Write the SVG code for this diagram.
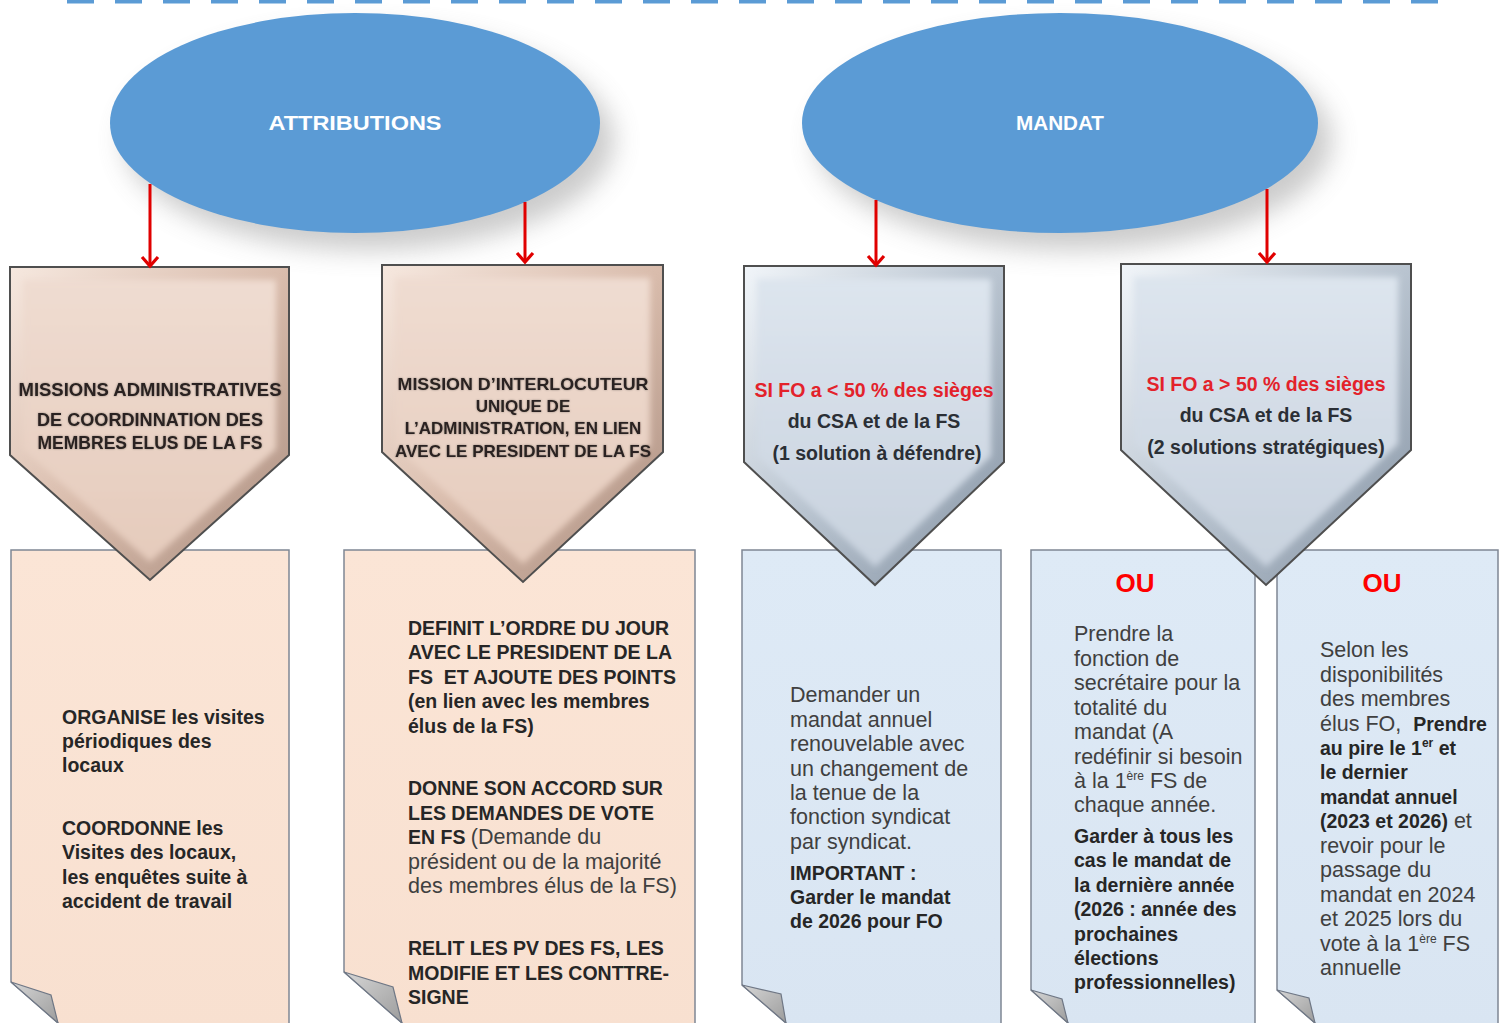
<svg xmlns="http://www.w3.org/2000/svg" width="1509" height="1023" viewBox="0 0 1509 1023">
<style>
.chb{font-family:"Liberation Sans",Arial,sans-serif;font-weight:bold;font-size:17.5px;fill:#2a2320;text-anchor:middle;}
.chm{font-family:"Liberation Sans",Arial,sans-serif;font-weight:bold;font-size:19.5px;fill:#2b2f35;text-anchor:middle;}
.red{fill:#E3222B;}
.bb{font-family:"Liberation Sans",Arial,sans-serif;font-weight:bold;font-size:19.5px;fill:#262626;}
.br{font-family:"Liberation Sans",Arial,sans-serif;font-weight:normal;font-size:21.5px;fill:#404040;}
.bd{font-weight:bold;font-size:19.5px;fill:#262626;}
.ou{font-family:"Liberation Sans",Arial,sans-serif;font-weight:bold;font-size:26px;fill:#FF0000;text-anchor:middle;}
.ell{fill:#5B9BD5;}
.elsh{fill:#8C8C8C;opacity:0.45;}
.elt{font-family:"Liberation Sans",Arial,sans-serif;font-weight:bold;font-size:21px;fill:#FFFFFF;text-anchor:middle;}
.box1{fill:url(#peach);stroke:#7F8794;stroke-width:1.5;}
.box2{fill:url(#pale);stroke:#7F8794;stroke-width:1.5;}
.fold{fill:url(#foldg);stroke:#6F7785;stroke-width:1.2;}
.chb-out{fill:url(#beigeEdge);}
.chb-in{fill:url(#beigeFace);}
.chl-out{fill:url(#blueEdge);}
.chl-in{fill:url(#blueFace);}
.chst{fill:none;stroke:#4F4F4F;stroke-width:2;}
.arr{stroke:#E00000;stroke-width:3;fill:none;marker-end:url(#ah);}
.sup{font-size:12px;}
</style>
<defs>
<linearGradient id="peach" x1="0" y1="0" x2="0" y2="1"><stop offset="0" stop-color="#FBE5D6"/><stop offset="1" stop-color="#F8E0D0"/></linearGradient>
<linearGradient id="pale" x1="0" y1="0" x2="0" y2="1"><stop offset="0" stop-color="#DEEAF6"/><stop offset="1" stop-color="#D9E5F2"/></linearGradient>
<linearGradient id="foldg" x1="0" y1="0" x2="1" y2="1"><stop offset="0" stop-color="#D6D6D6"/><stop offset="1" stop-color="#9C9C9C"/></linearGradient>
<linearGradient id="beigeEdge" x1="0" y1="0" x2="1" y2="1"><stop offset="0" stop-color="#F6E8DF"/><stop offset="0.5" stop-color="#D9BCAC"/><stop offset="1" stop-color="#A88C7E"/></linearGradient>
<linearGradient id="beigeFace" x1="0" y1="0" x2="0" y2="1"><stop offset="0" stop-color="#EFDCD1"/><stop offset="1" stop-color="#E5CBBC"/></linearGradient>
<linearGradient id="blueEdge" x1="0" y1="0" x2="1" y2="1"><stop offset="0" stop-color="#F1F5F9"/><stop offset="0.5" stop-color="#B9C4D0"/><stop offset="1" stop-color="#8593A3"/></linearGradient>
<linearGradient id="blueFace" x1="0" y1="0" x2="0" y2="1"><stop offset="0" stop-color="#DDE5EE"/><stop offset="1" stop-color="#C8D2DE"/></linearGradient>
<filter id="soft" x="-10%" y="-10%" width="120%" height="120%"><feGaussianBlur stdDeviation="3"/></filter>
<filter id="blurShadow" x="-30%" y="-40%" width="160%" height="180%"><feGaussianBlur stdDeviation="13"/></filter>
<filter id="glow" x="-5%" y="-20%" width="110%" height="140%">
<feGaussianBlur in="SourceAlpha" stdDeviation="1.2" result="g"/>
<feComponentTransfer in="g" result="h"><feFuncA type="linear" slope="0.35"/></feComponentTransfer>
<feMerge><feMergeNode in="h"/><feMergeNode in="SourceGraphic"/></feMerge>
</filter>
<marker id="ah" viewBox="-2 -10 14 20" refX="9" refY="0" markerWidth="14" markerHeight="20" markerUnits="userSpaceOnUse" orient="auto">
<path d="M0,-8 L9,0 L0,8" fill="none" stroke="#E00000" stroke-width="3.2"/>
</marker>
</defs>

<rect width="1509" height="1023" fill="#FFFFFF"/>
<line x1="67" y1="1.5" x2="1455" y2="1.5" stroke="#5B9BD5" stroke-width="4" stroke-dasharray="27 21"/>

<!-- lower boxes -->
<g id="box-organise">
<polygon class="box1" points="11,550 289,550 289,1030 58,1030 58,1023 11,982"/>
<polygon class="fold" points="11,982 51,995 58,1023"/>
<text class="bb"><tspan x="62" y="724">ORGANISE les visites</tspan><tspan x="62" y="748">périodiques des</tspan><tspan x="62" y="772">locaux</tspan><tspan x="62" y="835">COORDONNE les</tspan><tspan x="62" y="859">Visites des locaux,</tspan><tspan x="62" y="884">les enquêtes suite à</tspan><tspan x="62" y="908">accident de travail</tspan></text>
</g>
<g id="box-definit">
<polygon class="box1" points="344,550 695,550 695,1030 402,1030 402,1023 344,972"/>
<polygon class="fold" points="344,972 393,987 402,1023"/>
<text class="bb"><tspan x="408" y="635">DEFINIT L’ORDRE DU JOUR</tspan><tspan x="408" y="659">AVEC LE PRESIDENT DE LA</tspan><tspan x="408" y="684">FS&#160; ET AJOUTE DES POINTS</tspan><tspan x="408" y="708">(en lien avec les membres</tspan><tspan x="408" y="733">élus de la FS)</tspan><tspan x="408" y="795">DONNE SON ACCORD SUR</tspan><tspan x="408" y="820">LES DEMANDES DE VOTE</tspan><tspan x="408" y="844">EN FS </tspan><tspan class="br" style="font-weight:normal">(Demande du</tspan></text>
<text class="br"><tspan x="408" y="869">président ou de la majorité</tspan><tspan x="408" y="893">des membres élus de la FS)</tspan></text>
<text class="bb"><tspan x="408" y="955">RELIT LES PV DES FS, LES</tspan><tspan x="408" y="980">MODIFIE ET LES CONTTRE-</tspan><tspan x="408" y="1004">SIGNE</tspan></text>
</g>
<g id="box-demander">
<polygon class="box2" points="742,550 1001,550 1001,1030 786,1030 786,1023 742,985"/>
<polygon class="fold" points="742,985 781,994 786,1023"/>
<text class="br"><tspan x="790" y="702">Demander un</tspan><tspan x="790" y="727">mandat annuel</tspan><tspan x="790" y="751">renouvelable avec</tspan><tspan x="790" y="776">un changement de</tspan><tspan x="790" y="800">la tenue de la</tspan><tspan x="790" y="824">fonction syndicat</tspan><tspan x="790" y="849">par syndicat.</tspan></text>
<text class="bb"><tspan x="790" y="880">IMPORTANT :</tspan><tspan x="790" y="904">Garder le mandat</tspan><tspan x="790" y="928">de 2026 pour FO</tspan></text>
</g>
<g id="box-prendre">
<polygon class="box2" points="1031,550 1255,550 1255,1030 1068,1030 1068,1023 1031,990"/>
<polygon class="fold" points="1031,990 1062,999 1068,1023"/>
<text class="ou" x="1135" y="592">OU</text>
<text class="br"><tspan x="1074" y="641">Prendre la</tspan><tspan x="1074" y="666">fonction de</tspan><tspan x="1074" y="690">secrétaire pour la</tspan><tspan x="1074" y="715">totalité du</tspan><tspan x="1074" y="739">mandat (A</tspan><tspan x="1074" y="764">redéfinir si besoin</tspan><tspan x="1074" y="788">à la 1</tspan><tspan class="sup" dy="-8">ère</tspan><tspan dy="8"> FS de</tspan><tspan x="1074" y="812">chaque année.</tspan></text>
<text class="bb"><tspan x="1074" y="843">Garder à tous les</tspan><tspan x="1074" y="867">cas le mandat de</tspan><tspan x="1074" y="892">la dernière année</tspan><tspan x="1074" y="916">(2026 : année des</tspan><tspan x="1074" y="941">prochaines</tspan><tspan x="1074" y="965">élections</tspan><tspan x="1074" y="989">professionnelles)</tspan></text>
</g>
<g id="box-selon">
<polygon class="box2" points="1277,550 1498,550 1498,1030 1315,1030 1315,1023 1277,990"/>
<polygon class="fold" points="1277,990 1309,998 1315,1023"/>
<text class="ou" x="1382" y="592">OU</text>
<text class="br"><tspan x="1320" y="657">Selon les</tspan><tspan x="1320" y="682">disponibilités</tspan><tspan x="1320" y="706">des membres</tspan><tspan x="1320" y="731">élus FO,&#160; </tspan><tspan class="bd">Prendre</tspan></text>
<text class="bb"><tspan x="1320" y="755">au pire le 1</tspan><tspan class="sup" dy="-8">er</tspan><tspan dy="8"> et</tspan><tspan x="1320" y="779">le dernier</tspan><tspan x="1320" y="804">mandat annuel</tspan><tspan x="1320" y="828">(2023 et 2026)</tspan><tspan class="br" style="font-weight:normal"> et</tspan></text>
<text class="br"><tspan x="1320" y="853">revoir pour le</tspan><tspan x="1320" y="877">passage du</tspan><tspan x="1320" y="902">mandat en 2024</tspan><tspan x="1320" y="926">et 2025 lors du</tspan><tspan x="1320" y="951">vote à la 1</tspan><tspan class="sup" dy="-8">ère</tspan><tspan dy="8"> FS</tspan><tspan x="1320" y="975">annuelle</tspan></text>
</g>

<!-- ellipses -->
<g id="attributions">
<ellipse class="elsh" filter="url(#blurShadow)" cx="369" cy="140" rx="245" ry="110"/>
<ellipse class="ell" cx="355" cy="123" rx="245" ry="110"/>
<text class="elt" x="355" y="130" textLength="173" lengthAdjust="spacingAndGlyphs">ATTRIBUTIONS</text>
</g>
<g id="mandat">
<ellipse class="elsh" filter="url(#blurShadow)" cx="1074" cy="140" rx="258" ry="110"/>
<ellipse class="ell" cx="1060" cy="123" rx="258" ry="110"/>
<text class="elt" x="1060" y="130" textLength="88" lengthAdjust="spacingAndGlyphs">MANDAT</text>
</g>

<!-- chevrons -->
<g id="chev-missions-admin">
<polygon class="chb-out" points="10,267 289,267 289,455 150,580 10,455"/>
<polygon class="chb-in" filter="url(#soft)" points="23,280 276,280 276,449 150,562 23,449"/>
<polygon class="chst" points="10,267 289,267 289,455 150,580 10,455"/>
<text class="chb" filter="url(#glow)"><tspan x="150" y="396" textLength="263" lengthAdjust="spacingAndGlyphs">MISSIONS ADMINISTRATIVES</tspan><tspan x="150" y="426" textLength="226" lengthAdjust="spacingAndGlyphs">DE COORDINNATION DES</tspan><tspan x="150" y="449">MEMBRES ELUS DE LA FS</tspan></text>
</g>
<g id="chev-interlocuteur">
<polygon class="chb-out" points="382,265 663,265 663,452 523,582 382,452"/>
<polygon class="chb-in" filter="url(#soft)" points="395,278 650,278 650,446 523,564 395,446"/>
<polygon class="chst" points="382,265 663,265 663,452 523,582 382,452"/>
<text class="chb" style="font-size:17px" filter="url(#glow)"><tspan x="523" y="390" textLength="251" lengthAdjust="spacingAndGlyphs">MISSION D’INTERLOCUTEUR</tspan><tspan x="523" y="412">UNIQUE DE</tspan><tspan x="523" y="434">L’ADMINISTRATION, EN LIEN</tspan><tspan x="523" y="457">AVEC LE PRESIDENT DE LA FS</tspan></text>
</g>
<g id="chev-moins50">
<polygon class="chl-out" points="744,266 1004,266 1004,462 875,585 744,462"/>
<polygon class="chl-in" filter="url(#soft)" points="757,279 991,279 991,456 875,567 757,456"/>
<polygon class="chst" points="744,266 1004,266 1004,462 875,585 744,462"/>
<text class="chm"><tspan class="red" x="874" y="397">SI FO a &lt; 50 % des sièges</tspan><tspan x="874" y="428">du CSA et de la FS</tspan><tspan x="877" y="460">(1 solution à défendre)</tspan></text>
</g>
<g id="chev-plus50">
<polygon class="chl-out" points="1121,264 1411,264 1411,450 1266,585 1121,450"/>
<polygon class="chl-in" filter="url(#soft)" points="1134,277 1398,277 1398,444 1266,567 1134,444"/>
<polygon class="chst" points="1121,264 1411,264 1411,450 1266,585 1121,450"/>
<text class="chm"><tspan class="red" x="1266" y="391">SI FO a &gt; 50 % des sièges</tspan><tspan x="1266" y="422">du CSA et de la FS</tspan><tspan x="1266" y="454">(2 solutions stratégiques)</tspan></text>
</g>

<!-- connectors -->
<g id="connectors">
<line class="arr" x1="150" y1="184" x2="150" y2="266"/>
<line class="arr" x1="525" y1="202" x2="525" y2="262"/>
<line class="arr" x1="876" y1="200" x2="876" y2="265"/>
<line class="arr" x1="1267" y1="189" x2="1267" y2="262"/>
</g>
</svg>
